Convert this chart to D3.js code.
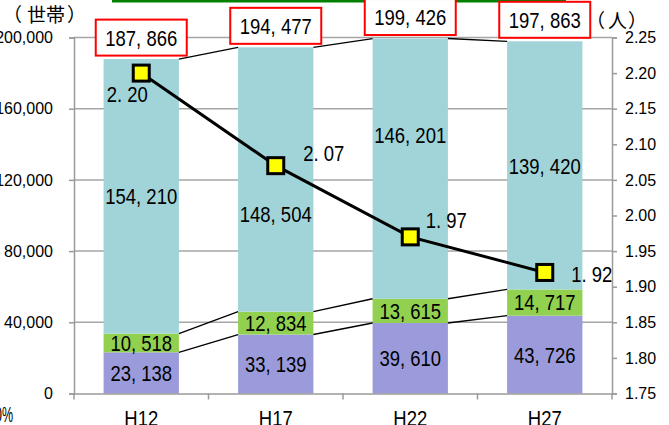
<!DOCTYPE html>
<html>
<head>
<meta charset="utf-8">
<script src="https://cdn.jsdelivr.net/npm/d3@7"></script>
<style>
  body { margin: 0; background: #fff; }
  svg { display: block; }
</style>
</head>
<body>
<div id="chart"></div>
<script>
/*------------------------------------------*/
/*            Data                          */
/*------------------------------------------*/

var years = ["H12", "H17", "H22", "H27"];
var purpleVals = [23138, 33139, 39610, 43726];
var greenVals = [10518, 12834, 13615, 14717];
var tealVals = [154210, 148504, 146201, 139420];
var totals = [187866, 194477, 199426, 197863];
var perHousehold = [2.20, 2.07, 1.97, 1.92];

var leftTicks = [0, 40000, 80000, 120000, 160000, 200000];
var rightTicks = [1.75, 1.80, 1.85, 1.90, 1.95, 2.00, 2.05, 2.10, 2.15, 2.20, 2.25];

/*------------------------------------------*/
/*            Constants                     */
/*------------------------------------------*/

var W = 669, H = 425;
var plotL = 74, plotR = 612, plotT = 37.5, plotB = 393.5;

var colors = ["#9b9bdb", "#92d050", "#a0d4d8"];
var labelFont = "'Liberation Sans', Arial, sans-serif";
var cjkFont = "'Noto Sans CJK JP', sans-serif";
var squeeze = 0.84;

var svg = d3.select("#chart").append("svg")
    .attr("width", W)
    .attr("height", H);

var x = d3.scaleBand()
    .domain(years)
    .range([plotL, plotR])
    .paddingInner(0.44)
    .paddingOuter(0.22);

var y = d3.scaleLinear().domain([0, 200000]).range([plotB, plotT]);
var y2 = d3.scaleLinear().domain([1.75, 2.25]).range([plotB, plotT]);

var rows = years.map(function(yr, i) {
  return {year: yr, a: purpleVals[i], b: greenVals[i], c: tealVals[i], total: totals[i], rate: perHousehold[i]};
});
var stack = d3.stack().keys(["a", "b", "c"])(rows);

var fmtNum = function(v) { return d3.format(",")(v).replace(",", ", "); };
var fmtRate = function(v) { return d3.format(".2f")(v).replace(".", ". "); };

// narrow look of the original font
function condense(sel) {
  sel.each(function() {
    var len = this.getComputedTextLength();
    d3.select(this).attr("textLength", len * squeeze).attr("lengthAdjust", "spacingAndGlyphs");
  });
}

/*------------------------------------------*/
/*            Grid & frame                  */
/*------------------------------------------*/

svg.append("rect")
    .attr("x", 112).attr("y", 0)
    .attr("width", 566 - 112).attr("height", 2.5)
    .attr("fill", "#008000");

svg.append("g").selectAll("line")
    .data(leftTicks.slice(1))
    .enter().append("line")
    .attr("x1", plotL).attr("x2", plotR)
    .attr("y1", function(d) { return y(d); })
    .attr("y2", function(d) { return y(d); })
    .attr("stroke", "#a6a6a6")
    .attr("stroke-width", 1.5);

/*------------------------------------------*/
/*            Bars                          */
/*------------------------------------------*/

var layers = svg.append("g").selectAll("g")
    .data(stack)
    .enter().append("g")
    .attr("fill", function(d, i) { return colors[i]; });

layers.selectAll("rect")
    .data(function(d) { return d; })
    .enter().append("rect")
    .attr("x", function(d) { return x(d.data.year); })
    .attr("width", x.bandwidth())
    .attr("y", function(d) { return y(d[1]); })
    .attr("height", function(d) { return y(d[0]) - y(d[1]); });

// series lines between bars
var seriesLines = [];
stack.forEach(function(layer) {
  for (var i = 0; i < layer.length - 1; i++) {
    seriesLines.push({
      x1: x(years[i]) + x.bandwidth(), y1: y(layer[i][1]),
      x2: x(years[i + 1]), y2: y(layer[i + 1][1])
    });
  }
});

svg.append("g").selectAll("line")
    .data(seriesLines)
    .enter().append("line")
    .attr("x1", function(d) { return d.x1; })
    .attr("y1", function(d) { return d.y1; })
    .attr("x2", function(d) { return d.x2; })
    .attr("y2", function(d) { return d.y2; })
    .attr("stroke", "#000")
    .attr("stroke-width", 1.3);

/*------------------------------------------*/
/*            Axes                          */
/*------------------------------------------*/

var axisCol = "#9a9a9a";

var leftAxis = svg.append("g")
    .attr("transform", "translate(" + plotL + ",0)")
    .call(d3.axisLeft(y).tickValues(leftTicks).tickSize(5).tickPadding(16)
      .tickFormat(d3.format(",")));

var rightAxis = svg.append("g")
    .attr("transform", "translate(" + plotR + ",0)")
    .call(d3.axisRight(y2).tickValues(rightTicks).tickSize(5).tickPadding(8)
      .tickFormat(d3.format(".2f")));

var bottomAxis = svg.append("g")
    .attr("transform", "translate(0," + plotB + ")")
    .call(d3.axisBottom(x).tickSize(0).tickPadding(16.5));

[leftAxis, rightAxis, bottomAxis].forEach(function(ax) {
  ax.select(".domain").attr("stroke", axisCol).attr("stroke-width", 1.5);
  ax.selectAll(".tick line").attr("stroke", axisCol).attr("stroke-width", 1.5);
  ax.selectAll("text").attr("fill", "#000");
});

leftAxis.selectAll("text")
    .attr("font-family", labelFont).attr("font-size", "16px");
rightAxis.selectAll("text")
    .attr("font-family", labelFont).attr("font-size", "16px");

bottomAxis.selectAll("text")
    .attr("font-family", labelFont).attr("font-size", "22px")
    .call(condense);

// category boundary ticks
var step = x.step();
svg.append("g").selectAll("line")
    .data(d3.range(years.length + 1))
    .enter().append("line")
    .attr("x1", function(d) { return plotL + step * d; })
    .attr("x2", function(d) { return plotL + step * d; })
    .attr("y1", plotB).attr("y2", plotB + 6)
    .attr("stroke", axisCol).attr("stroke-width", 1.5);

// units, each glyph placed so the brackets stay full width
function unitLabel(parts, baseline) {
  var t = svg.append("text")
      .attr("y", baseline)
      .attr("font-family", cjkFont)
      .attr("font-size", "19px");
  parts.forEach(function(p) {
    t.append("tspan").attr("x", p[0]).text(p[1]);
  });
}

unitLabel([[3, "（"], [27, "世帯"], [67, "）"]], 21.5);
unitLabel([[586, "（"], [608, "人"], [628, "）"]], 28);

svg.append("text")
    .attr("x", 13).attr("y", 422)
    .attr("text-anchor", "end")
    .attr("font-family", labelFont).attr("font-size", "22px")
    .attr("textLength", 18).attr("lengthAdjust", "spacingAndGlyphs")
    .text("0%");

/*------------------------------------------*/
/*            Segment labels                */
/*------------------------------------------*/

var tealNudge = [0, 35, -34, 1];

var segLabels = [];
stack.forEach(function(layer, li) {
  layer.forEach(function(d, i) {
    var cy = (y(d[0]) + y(d[1])) / 2;
    if (li === 2) cy += tealNudge[i];
    segLabels.push({x: x(d.data.year) + x.bandwidth() / 2, y: cy, v: d[1] - d[0]});
  });
});

svg.append("g").selectAll("text")
    .data(segLabels)
    .enter().append("text")
    .attr("x", function(d) { return d.x; })
    .attr("y", function(d) { return d.y; })
    .attr("text-anchor", "middle")
    .attr("dy", "0.36em")
    .attr("font-family", labelFont)
    .attr("font-size", "22px")
    .text(function(d) { return fmtNum(d.v); })
    .call(condense);

/*------------------------------------------*/
/*            Persons per household line    */
/*------------------------------------------*/

var cx = function(i) { return x(years[i]) + x.bandwidth() / 2; };

svg.append("path")
    .datum(perHousehold)
    .attr("fill", "none")
    .attr("stroke", "#000")
    .attr("stroke-width", 3)
    .attr("d", d3.line()
      .x(function(d, i) { return cx(i); })
      .y(function(d) { return y2(d); }));

svg.append("g").selectAll("rect")
    .data(perHousehold)
    .enter().append("rect")
    .attr("x", function(d, i) { return cx(i) - 8; })
    .attr("y", function(d) { return y2(d) - 8; })
    .attr("width", 16).attr("height", 16)
    .attr("fill", "#ffff00")
    .attr("stroke", "#000")
    .attr("stroke-width", 3);

var rateNudge = [[-14, 21], [48, -13], [36, -17], [47, 2]];

svg.append("g").selectAll("text")
    .data(perHousehold)
    .enter().append("text")
    .attr("x", function(d, i) { return cx(i) + rateNudge[i][0]; })
    .attr("y", function(d, i) { return y2(d) + rateNudge[i][1]; })
    .attr("text-anchor", "middle")
    .attr("dy", "0.36em")
    .attr("font-family", labelFont)
    .attr("font-size", "22px")
    .text(function(d) { return fmtRate(d); })
    .call(condense);

/*------------------------------------------*/
/*            Total boxes                   */
/*------------------------------------------*/

var boxW = 91, boxH = 36;

var boxes = svg.append("g").selectAll("g")
    .data(totals)
    .enter().append("g")
    .attr("transform", function(d, i) {
      return "translate(" + cx(i) + "," + (y(d) - 3.5 - boxH / 2) + ")";
    });

boxes.append("rect")
    .attr("x", -boxW / 2).attr("y", -boxH / 2)
    .attr("width", boxW).attr("height", boxH)
    .attr("fill", "#fff")
    .attr("stroke", "#ff0000")
    .attr("stroke-width", 2);

boxes.append("text")
    .attr("text-anchor", "middle")
    .attr("dy", "0.36em")
    .attr("font-family", labelFont)
    .attr("font-size", "22px")
    .text(function(d) { return fmtNum(d); })
    .call(condense);
</script>
</body>
</html>
